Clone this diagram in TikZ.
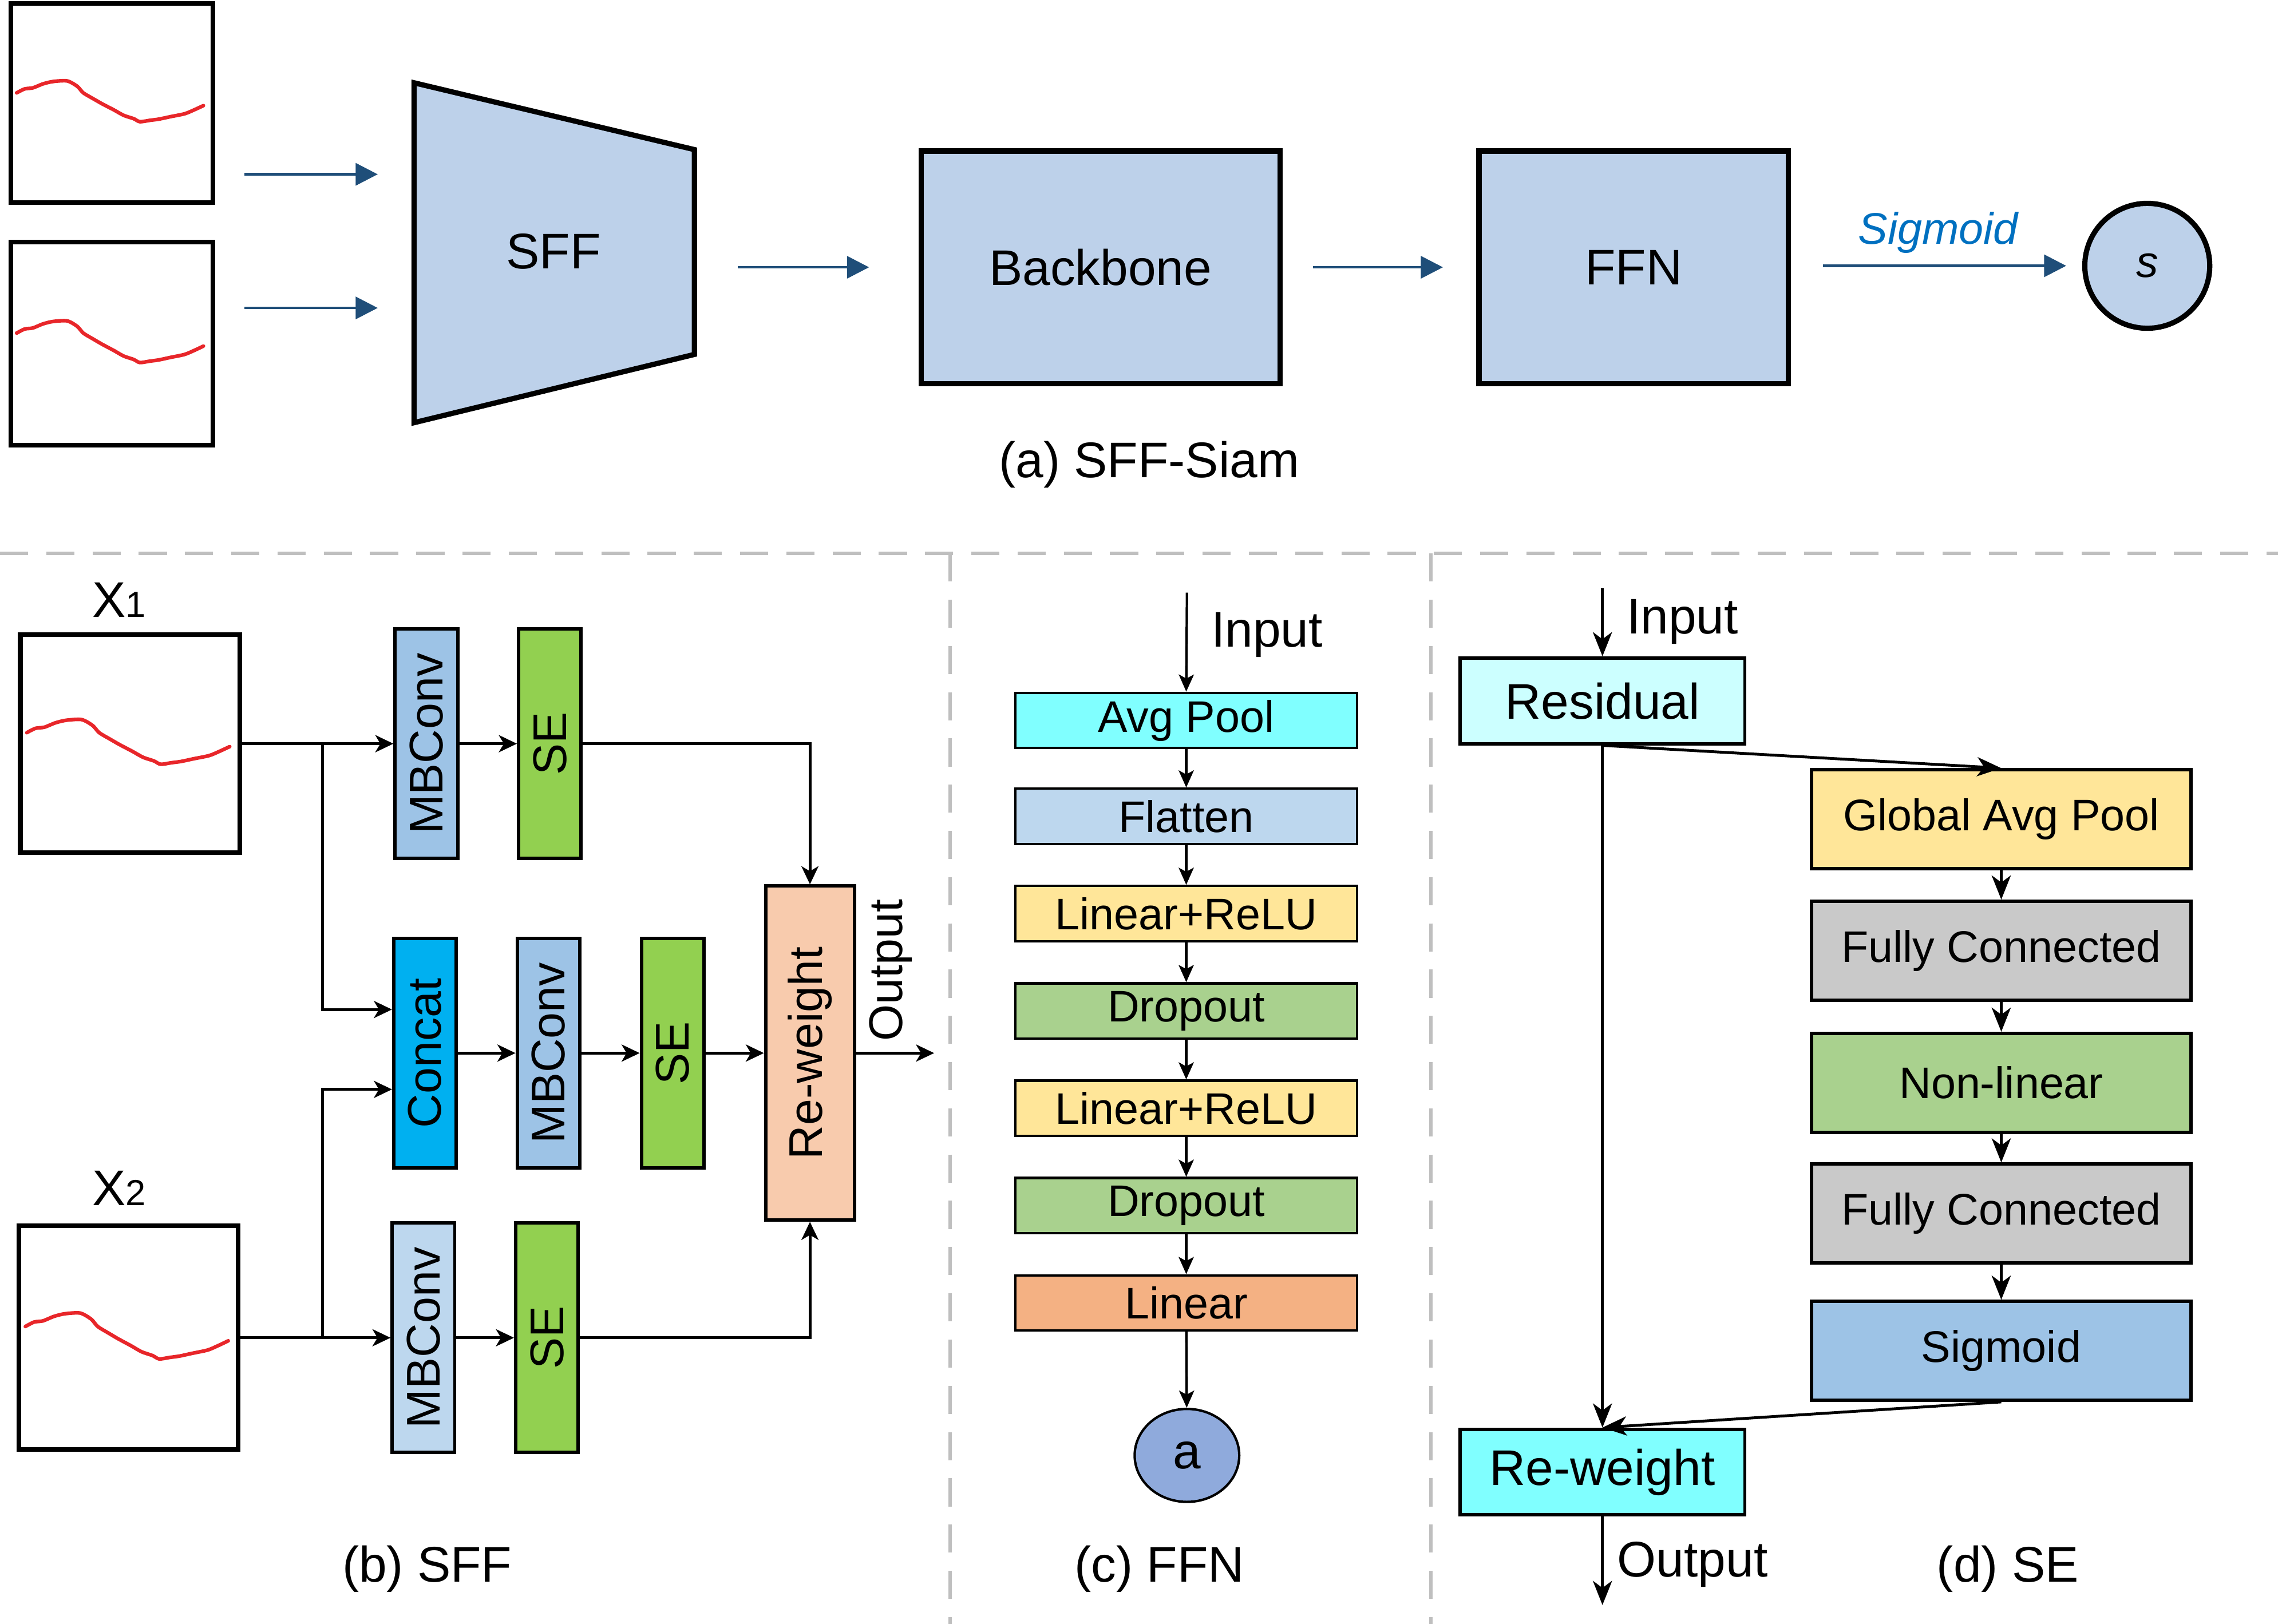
\documentclass[tikz,border=0pt]{standalone}
\usepackage{fontspec}
\setmainfont{Liberation Sans}
\usetikzlibrary{arrows.meta,calc,shapes.geometric}
\newlength\pxu \setlength\pxu{0.025383cm}
\definecolor{topblue}{RGB}{189,209,234}
\definecolor{arrowblue}{RGB}{31,78,121}
\definecolor{sigblue}{RGB}{0,112,192}
\definecolor{sepgray}{RGB}{191,191,191}
\definecolor{wavered}{RGB}{232,38,42}
\definecolor{mbblue}{RGB}{157,195,230}
\definecolor{mblight}{RGB}{189,215,238}
\definecolor{concatblue}{RGB}{0,176,240}
\definecolor{segreen}{RGB}{146,208,80}
\definecolor{rwpeach}{RGB}{248,203,173}
\definecolor{cyanA}{RGB}{128,255,255}
\definecolor{cyanL}{RGB}{204,255,255}
\definecolor{yellowA}{RGB}{255,230,153}
\definecolor{greenA}{RGB}{169,209,142}
\definecolor{orangeA}{RGB}{244,177,131}
\definecolor{grayA}{RGB}{201,201,201}
\definecolor{ablue}{RGB}{143,170,220}
\newcommand\fsL{\fontsize{24.9pt}{28pt}\selectfont}
\newcommand\fsB{\fontsize{23.5pt}{26pt}\selectfont}
\newcommand\fsM{\fontsize{22pt}{25pt}\selectfont}
\newcommand\drawwave{\draw[wave] plot[smooth, tension=0.45] coordinates {(0.04,0.46) (0.08,0.44) (0.12,0.435) (0.17,0.415) (0.22,0.403) (0.29,0.40) (0.34,0.427) (0.37,0.46) (0.42,0.49) (0.465,0.516) (0.52,0.545) (0.57,0.573) (0.62,0.59) (0.65,0.605) (0.70,0.598) (0.744,0.592) (0.80,0.58) (0.872,0.565) (0.92,0.545) (0.965,0.524)};}
\begin{document}
\begin{tikzpicture}[x=\pxu, y=-\pxu,
  topbox/.style={draw=black, line width=2.6pt, fill=topblue, inner sep=0pt, font=\fsL},
  imgbox/.style={draw=black, line width=2.3pt, inner sep=0pt, fill=white},
  barrow/.style={draw=arrowblue, line width=1.3pt, -{Triangle[length=11pt,width=11pt]}},
  vbox/.style={draw=black, line width=1.7pt, inner sep=0pt, minimum width=43\pxu, minimum height=158\pxu, font=\fsB},
  ffnbox/.style={draw=black, line width=1.2pt, inner sep=0pt, minimum width=235\pxu, minimum height=38\pxu, font=\fsM},
  sebox/.style={draw=black, line width=1.7pt, inner sep=0pt, minimum width=261\pxu, minimum height=68\pxu, font=\fsM},
  arrb/.style={draw=black, line width=1.4pt, -{Stealth[length=9pt,width=8.5pt,inset=2.5pt]}},
  arrc/.style={draw=black, line width=1.2pt, -{Stealth[length=8.5pt,width=7.5pt,inset=2pt]}},
  arrd/.style={draw=black, line width=1.4pt, -{Stealth[length=12pt,width=9.5pt,inset=3.5pt]}},
  dashsep/.style={draw=sepgray, line width=1.6pt, dash pattern=on 14pt off 9pt},
  wave/.style={draw=wavered, line width=1.8pt, line join=round, line cap=round},
  lbl/.style={inner sep=0pt}
]
\useasboundingbox (0,0) rectangle (1568,1118);

% ---------------- (a) SFF-Siam ----------------
\node[imgbox, minimum width=139\pxu, minimum height=137\pxu] (img1) at (77,71) {};
\node[imgbox, minimum width=139\pxu, minimum height=140\pxu] (img2) at (77,236.5) {};
\begin{scope}[shift={(img1.north west)}, x=139\pxu, y=-137\pxu] \drawwave \end{scope}
\begin{scope}[shift={(img2.north west)}, x=139\pxu, y=-140\pxu] \drawwave \end{scope}

\draw[line width=2.6pt, fill=topblue, line join=miter] (285,57) -- (478,103) -- (478,244) -- (285,291) -- cycle;
\node[font=\fsL, lbl] (sff) at (381,173) {SFF};
\coordinate (sffW) at (285,174);
\coordinate (sffE) at (478,174);

\node[topbox, minimum width=247\pxu, minimum height=160\pxu] (bb) at (757.5,184) {Backbone};
\node[topbox, minimum width=213\pxu, minimum height=160\pxu] (ffn) at (1124.5,184) {FFN};
\node[circle, draw=black, line width=2.6pt, fill=topblue, minimum size=86\pxu, inner sep=0pt, font=\fsM\itshape] (s) at (1478,183) {s};

\draw[barrow, shorten <=20\pxu, shorten >=25\pxu] (img1.east |- 0,120) -- (sffW |- 0,120);
\draw[barrow, shorten <=20\pxu, shorten >=25\pxu] (img2.east |- 0,212) -- (sffW |- 0,212);
\draw[barrow, shorten <=30\pxu, shorten >=34\pxu] (sffE |- bb.west) -- (bb.west);
\draw[barrow, shorten <=21\pxu, shorten >=23\pxu] (bb.east) -- (ffn.west);
\draw[barrow, shorten <=22\pxu, shorten >=11\pxu] (ffn.east |- s.west) -- (s.west);
\node[font=\fsM\itshape, text=sigblue] (siglbl) at (1334,160) {Sigmoid};
\node[font=\fsL] (capa) at (791,320) {(a) SFF-Siam};

% ---------------- separators ----------------
\draw[dashsep] (0,381) -- (1568,381);
\draw[dashsep] (654,381) -- (654,1118);
\draw[dashsep] (985,381) -- (985,1118);

% ---------------- (b) SFF ----------------
\node[font=\fsL] (x1lbl) at (82,413) {X{\fontsize{18pt}{18pt}\selectfont 1}};
\node[font=\fsL] (x2lbl) at (82,818) {X{\fontsize{18pt}{18pt}\selectfont 2}};
\node[imgbox, minimum width=151\pxu, minimum height=150\pxu] (ib1) at (89.5,512) {};
\node[imgbox, minimum width=151\pxu, minimum height=154\pxu] (ib2) at (88.5,921) {};
\begin{scope}[shift={(ib1.north west)}, x=151\pxu, y=-150\pxu] \drawwave \end{scope}
\begin{scope}[shift={(ib2.north west)}, x=151\pxu, y=-154\pxu] \drawwave \end{scope}

\node[vbox, fill=mbblue] (mb1) at (293.5,512) {\rotatebox{90}{MBConv}};
\node[vbox, fill=segreen] (se1) at (378.5,512) {\rotatebox{90}{SE}};
\node[vbox, fill=concatblue] (cc) at (292.5,725) {\rotatebox{90}{Concat}};
\node[vbox, fill=mbblue] (mb2) at (377.5,725) {\rotatebox{90}{MBConv}};
\node[vbox, fill=segreen] (se2) at (463,725) {\rotatebox{90}{SE}};
\node[vbox, fill=mblight] (mb3) at (291.5,921) {\rotatebox{90}{MBConv}};
\node[vbox, fill=segreen] (se3) at (376.5,921) {\rotatebox{90}{SE}};
\node[vbox, fill=rwpeach, minimum width=61\pxu, minimum height=230\pxu] (rw) at (557.5,725) {\rotatebox{90}{Re-weight}};
\node[font=\fsB, rotate=90] (outb) at (613,668) {Output};
\coordinate (j1) at (222,512);
\coordinate (j2) at (222,921);
\coordinate (outbEnd) at (643,725);

\draw[arrb] (ib1.east) -- (mb1.west);
\draw[arrb] (ib2.east) -- (mb3.west);
\draw[arrb] (j1) |- (cc.west |- 0,695);
\draw[arrb] (j2) |- (cc.west |- 0,750);
\draw[arrb] (mb1.east) -- (se1.west);
\draw[arrb] (se1.east) -| (rw.north);
\draw[arrb] (cc.east) -- (mb2.west);
\draw[arrb] (mb2.east) -- (se2.west);
\draw[arrb] (se2.east) -- (rw.west);
\draw[arrb] (mb3.east) -- (se3.west);
\draw[arrb] (se3.east) -| (rw.south);
\draw[arrb] (rw.east) -- (outbEnd);
\node[font=\fsL] (capb) at (294,1080) {(b) SFF};

% ---------------- (c) FFN ----------------
\coordinate (inC) at (817,408);
\node[ffnbox, fill=cyanA] (ap) at (816.5,496) {Avg Pool};
\node[ffnbox, fill=mblight] (fl) at (816.5,562) {Flatten};
\node[ffnbox, fill=yellowA] (lr1) at (816.5,629) {Linear+ReLU};
\node[ffnbox, fill=greenA] (dp1) at (816.5,696) {Dropout};
\node[ffnbox, fill=yellowA] (lr2) at (816.5,763) {Linear+ReLU};
\node[ffnbox, fill=greenA] (dp2) at (816.5,830) {Dropout};
\node[ffnbox, fill=orangeA] (ln) at (816.5,897) {Linear};
\node[ellipse, draw=black, line width=1.2pt, fill=ablue, minimum width=72\pxu, minimum height=64\pxu, inner sep=0pt, font=\fsL] (a) at (817,1002) {a};
\node[font=\fsL] (inCl) at (872,437) {Input};
\draw[arrc] (inC) -- (ap.north);
\draw[arrc] (ap) -- (fl);
\draw[arrc] (fl) -- (lr1);
\draw[arrc] (lr1) -- (dp1);
\draw[arrc] (dp1) -- (lr2);
\draw[arrc] (lr2) -- (dp2);
\draw[arrc] (dp2) -- (ln);
\draw[arrc] (ln) -- (a);
\node[font=\fsL] (capc) at (798,1080) {(c) FFN};

% ---------------- (d) SE ----------------
\coordinate (inD) at (1103,405);
\coordinate (outD) at (1103,1105);
\node[draw=black, line width=1.7pt, inner sep=0pt, fill=cyanL, minimum width=196\pxu, minimum height=59\pxu, font=\fsL] (res) at (1103,482.5) {Residual};
\node[sebox, fill=yellowA] (gap) at (1377.5,564) {Global Avg Pool};
\node[sebox, fill=grayA] (fc1) at (1377.5,654.5) {Fully Connected};
\node[sebox, fill=greenA] (nl) at (1377.5,745.5) {Non-linear};
\node[sebox, fill=grayA] (fc2) at (1377.5,835.5) {Fully Connected};
\node[sebox, fill=mbblue] (sg) at (1377.5,930) {Sigmoid};
\node[draw=black, line width=1.7pt, inner sep=0pt, fill=cyanA, minimum width=196\pxu, minimum height=59\pxu, font=\fsL] (rw2) at (1103,1013.5) {Re-weight};
\node[font=\fsL] (inDl) at (1158,428) {Input};
\node[font=\fsL] (outDl) at (1165,1077) {Output};
\draw[arrd] (inD) -- (res.north);
\draw[arrd] (res.south) -- (rw2.north);
\draw[arrd] (res.south) -- (gap.north);
\draw[arrd] (gap) -- (fc1);
\draw[arrd] (fc1) -- (nl);
\draw[arrd] (nl) -- (fc2);
\draw[arrd] (fc2) -- (sg);
\draw[arrd] (sg.south) -- (rw2.north);
\draw[arrd] (rw2.south) -- (outD);
\node[font=\fsL] (capd) at (1382,1080) {(d) SE};
\end{tikzpicture}
\end{document}
